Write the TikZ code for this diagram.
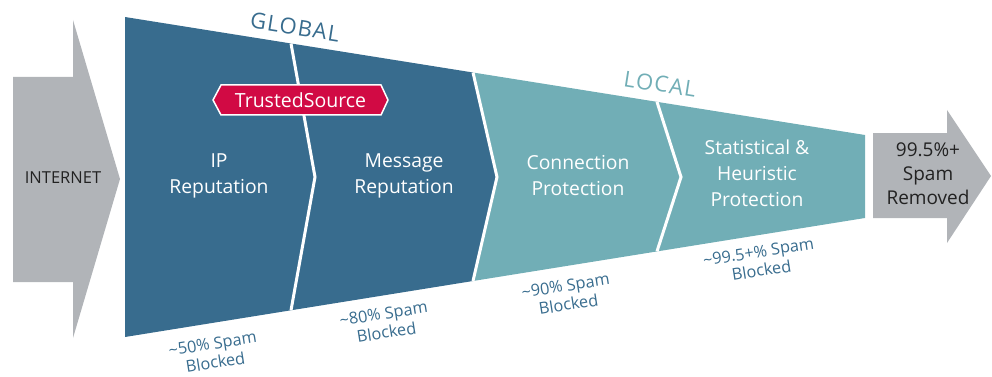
\documentclass[tikz,border=0pt]{standalone}
\usepackage{fontspec}
\setmainfont{Open Sans}
\definecolor{dblue}{HTML}{386C8E}
\definecolor{teal2}{HTML}{71AEB6}
\definecolor{agrey}{HTML}{B1B4B8}
\definecolor{crim}{HTML}{D10A44}
\definecolor{dtext}{HTML}{222222}
\begin{document}
\begin{tikzpicture}[x=1pt,y=-1pt,
  stagetext/.style={text=white,align=center,font=\fontsize{19.3}{26}\selectfont},
  blocked/.style={text=dblue,align=center,rotate=9,font=\fontsize{16.3}{19}\selectfont},
  divider/.style={draw=white,line width=3pt},
  zone/.style={font=\fontsize{22}{24}\selectfont\addfontfeature{LetterSpace=6},rotate=-9}]
\useasboundingbox (0,0) rectangle (992,377);
% input arrow
\fill[agrey] (13,77) -- (73,77) -- (73,20) -- (120,179) -- (73,338) -- (73,282) -- (13,282) -- cycle;
% output arrow
\fill[agrey] (873,133) -- (947,133) -- (947,110) -- (991,176) -- (947,243) -- (947,218) -- (873,218) -- cycle;
% funnel
\fill[dblue] (125,17) -- (473,72.5) -- (497,177) -- (473,281) -- (125,337) -- cycle;
\fill[teal2] (473,72.5) -- (865,135) -- (865,218) -- (473,281) -- (497,177) -- cycle;
\draw[divider] (291,43.5) -- (315,177) -- (291,310.3);
\draw[divider] (473,72.5) -- (497,177) -- (473,281);
\draw[divider] (657,101.9) -- (681,177) -- (657,251.3);
% badge
\draw[fill=crim,draw=white,line width=1.5pt] (213,100) -- (221,85) -- (381,85) -- (388,100) -- (381,115) -- (221,115) -- cycle;
\node[text=white,font=\fontsize{19.5}{20}\selectfont] (ts) at (300.5,100.5) {TrustedSource};
% zone labels
\node[zone,text=dblue] (global) at (295,27) {GLOBAL};
\node[zone,text=teal2] (local) at (660,84) {LOCAL};
% stage texts
\node[text=dtext,font=\fontsize{16.5}{20}\selectfont] (internet) at (63,178) {INTERNET};
\node[stagetext] (ip) at (219,176) {IP\\Reputation};
\node[stagetext] (msg) at (404,176) {Message\\Reputation};
\node[stagetext] (conn) at (578,176) {Connection\\Protection};
\node[stagetext] (stat) at (757,173) {Statistical \&\\Heuristic\\Protection};
\node[text=dtext,align=center,font=\fontsize{19}{24}\selectfont] (out) at (928,174) {99.5\%+\\Spam\\Removed};
% blocked labels
\node[blocked] (b1) at (214,353) {\textasciitilde50\% Spam\\Blocked};
\node[blocked] (b2) at (385,323) {\textasciitilde80\% Spam\\Blocked};
\node[blocked] (b3) at (567,295) {\textasciitilde90\% Spam\\Blocked};
\node[blocked] (b4) at (760,261) {\textasciitilde99.5+\% Spam\\Blocked};
\end{tikzpicture}
\end{document}
